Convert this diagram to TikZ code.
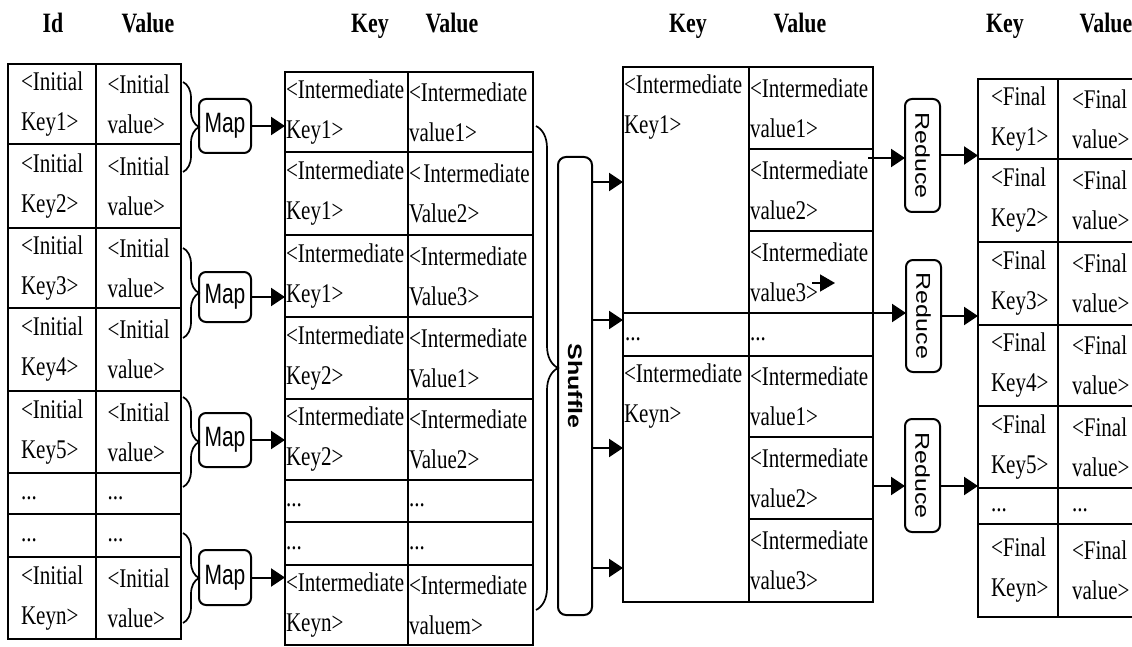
\documentclass[tikz,border=0pt]{standalone}
\usepackage{fontspec}
\usetikzlibrary{arrows.meta,decorations.pathreplacing,calc}
\newfontfamily\serifc[FakeStretch=0.78]{Liberation Serif}
\newfontfamily\sansc[FakeStretch=0.75]{Liberation Sans}
\newfontfamily\sansn{Liberation Sans}
\newcommand\mkcell[7]{\node[cellbox, text width=#5pt, minimum width=#4pt, minimum height=#6pt] (#1) at (#2,#3) {#7};}
\newcommand\dd{\rule{0pt}{12pt}...}
\hyphenpenalty=10000
\exhyphenpenalty=10000
\begin{document}
\begin{tikzpicture}[x=1pt,y=-1pt,
  cellbox/.style={draw, line width=1.2pt, anchor=north west, inner sep=0pt, outer sep=0pt, align=left,
     font=\serifc\fontsize{27}{40}\selectfont},
  txt/.style={inner sep=0pt, outer sep=0pt, align=left, anchor=north west,
     font=\serifc\fontsize{27}{40}\selectfont},
  hdr/.style={inner sep=0pt, anchor=base, font=\serifc\bfseries\fontsize{28}{32}\selectfont},
  procbox/.style={draw, line width=2pt, rounded corners=7pt, inner sep=0pt, outer sep=0pt},
  arr/.style={line width=2pt, -{Triangle[length=14pt,width=18pt]}},
  br/.style={decorate, decoration={brace, amplitude=#1}, line width=1.7pt},
]
\useasboundingbox (0,0) rectangle (1132,647);
\fill[white] (0,0) rectangle (1132,647);

% headers
\node[hdr] (h1a) at (53,33) {Id};
\node[hdr] (h1b) at (148,33) {Value};
\node[hdr] (h2a) at (370,33) {Key};
\node[hdr] (h2b) at (452,33) {Value};
\node[hdr] (h3a) at (688,33) {Key};
\node[hdr] (h3b) at (800,33) {Value};
\node[hdr] (h4a) at (1005,33) {Key};
\node[hdr] (h4b) at (1106,33) {Value};

% table 1
\mkcell{a1k}{8}{64}{88}{62}{80}{<Initial\\Key1>}
\mkcell{a1v}{96}{64}{85}{62}{80}{<Initial\\value>}
\mkcell{a2k}{8}{144}{88}{62}{84}{<Initial\\Key2>}
\mkcell{a2v}{96}{144}{85}{62}{84}{<Initial\\value>}
\mkcell{a3k}{8}{228}{88}{62}{80}{<Initial\\Key3>}
\mkcell{a3v}{96}{228}{85}{62}{80}{<Initial\\value>}
\mkcell{a4k}{8}{308}{88}{62}{83}{<Initial\\Key4>}
\mkcell{a4v}{96}{308}{85}{62}{83}{<Initial\\value>}
\mkcell{a5k}{8}{391}{88}{62}{82}{<Initial\\Key5>}
\mkcell{a5v}{96}{391}{85}{62}{82}{<Initial\\value>}
\mkcell{a6k}{8}{473}{88}{62}{41}{\dd}
\mkcell{a6v}{96}{473}{85}{62}{41}{\dd}
\mkcell{a7k}{8}{514}{88}{62}{43}{\dd}
\mkcell{a7v}{96}{514}{85}{62}{43}{\dd}
\mkcell{a8k}{8}{557}{88}{62}{82}{<Initial\\Keyn>}
\mkcell{a8v}{96}{557}{85}{62}{82}{<Initial\\value>}

% braces and map boxes
\draw[br=16pt] (183,82) -- (183,172);
\draw[br=16pt] (183,248) -- (183,338);
\draw[br=16pt] (183,397) -- (183,487);
\draw[br=16pt] (183,533) -- (183,623);
\node[procbox, minimum width=52pt, minimum height=54pt, font=\sansc\fontsize{28}{30}\selectfont] (m1) at (225,126) {Map};
\node[procbox, minimum width=52pt, minimum height=50pt, font=\sansc\fontsize{28}{30}\selectfont] (m2) at (225,297) {Map};
\node[procbox, minimum width=52pt, minimum height=54pt, font=\sansc\fontsize{28}{30}\selectfont] (m3) at (225,440) {Map};
\node[procbox, minimum width=52pt, minimum height=55pt, font=\sansc\fontsize{28}{30}\selectfont] (m4) at (225,577.5) {Map};

% table 2
\mkcell{b1k}{285}{72}{123}{121}{80}{<Intermediate\\Key1>}
\mkcell{b1v}{408}{72}{125}{123}{80}{<Intermediate\\value1>}
\mkcell{b2k}{285}{152}{123}{121}{83}{<Intermediate\\Key1>}
\mkcell{b2v}{408}{152}{125}{123}{83}{\mbox{<\hspace{2.5pt}Intermediate}\\Value2>}
\mkcell{b3k}{285}{235}{123}{121}{82}{<Intermediate\\Key1>}
\mkcell{b3v}{408}{235}{125}{123}{82}{<Intermediate\\Value3>}
\mkcell{b4k}{285}{317}{123}{121}{82}{<Intermediate\\Key2>}
\mkcell{b4v}{408}{317}{125}{123}{82}{<Intermediate\\Value1>}
\mkcell{b5k}{285}{399}{123}{121}{81}{<Intermediate\\Key2>}
\mkcell{b5v}{408}{399}{125}{123}{81}{<Intermediate\\Value2>}
\mkcell{b6k}{285}{480}{123}{121}{42}{\dd}
\mkcell{b6v}{408}{480}{125}{123}{42}{\dd}
\mkcell{b7k}{285}{522}{123}{121}{43}{\dd}
\mkcell{b7v}{408}{522}{125}{123}{43}{\dd}
\mkcell{b8k}{285}{565}{123}{121}{80}{<Intermediate\\Keyn>}
\mkcell{b8v}{408}{565}{125}{123}{80}{<Intermediate\\valuem>}

\draw[arr] (m1.east) -- (m1.east -| b1k.west);
\draw[arr] (m2.east) -- (m2.east -| b3k.west);
\draw[arr] (m3.east) -- (m3.east -| b5k.west);
\draw[arr] (m4.east) -- (m4.east -| b8k.west);

% shuffle
\draw[br=22pt] (536,126) -- (536,610);
\node[procbox, rounded corners=8pt, minimum width=34pt, minimum height=458pt] (sh) at (575,386)
  {\rotatebox{-90}{\scalebox{1}[0.78]{\sansn\bfseries\fontsize{25}{30}\selectfont Shuffle}}};

% table 3
\mkcell{c1k}{623}{67}{126}{122}{246}{}
\mkcell{c2k}{623}{313}{126}{122}{43}{\dd}
\mkcell{c3k}{623}{356}{126}{122}{246}{}
\node[txt, text width=122pt] (c1t) at ($(c1k.north west)+(1,8)$) {<Intermediate\\Key1>};
\node[txt, text width=122pt] (c3t) at ($(c3k.north west)+(1,8)$) {<Intermediate\\Keyn>};
\mkcell{c1v}{749}{67}{124}{122}{82}{<Intermediate\\value1>}
\mkcell{c2v}{749}{149}{124}{122}{82}{<Intermediate\\value2>}
\mkcell{c3v}{749}{231}{124}{122}{82}{<Intermediate\\value3>}
\mkcell{c4v}{749}{313}{124}{122}{43}{\dd}
\mkcell{c5v}{749}{356}{124}{122}{81}{<Intermediate\\value1>}
\mkcell{c6v}{749}{437}{124}{122}{82}{<Intermediate\\value2>}
\mkcell{c7v}{749}{519}{124}{122}{83}{<Intermediate\\value3>}

\coordinate (sa1) at (sh.east |- 0,182);
\coordinate (sa2) at (sh.east |- 0,320);
\coordinate (sa3) at (sh.east |- 0,448);
\coordinate (sa4) at (sh.east |- 0,568);
\draw[arr] (sa1) -- (sa1 -| c1k.west);
\draw[arr] (sa2) -- (sa2 -| c1k.west);
\draw[arr] (sa3) -- (sa3 -| c3k.west);
\draw[arr] (sa4) -- (sa4 -| c3k.west);

% stray small arrow
\coordinate (sm1) at (812,283);
\coordinate (sm2) at (835,283);
\draw[line width=1.5pt, -{Triangle[length=15pt,width=17pt]}] (sm1) -- (sm2);

% reduce
\node[procbox, minimum width=35pt, minimum height=113pt] (r1) at (922.5,155.5)
  {\rotatebox{-90}{\scalebox{1}[0.8]{\sansn\fontsize{25}{30}\selectfont Reduce}}};
\node[procbox, minimum width=35pt, minimum height=112pt] (r2) at (923.5,316)
  {\rotatebox{-90}{\scalebox{1}[0.8]{\sansn\fontsize{25}{30}\selectfont Reduce}}};
\node[procbox, minimum width=35pt, minimum height=113pt] (r3) at (922.5,475.5)
  {\rotatebox{-90}{\scalebox{1}[0.8]{\sansn\fontsize{25}{30}\selectfont Reduce}}};

\coordinate (ra1) at (868,158);
\coordinate (ra2) at (868,313);
\coordinate (ra3) at (873,486);
\draw[arr] (ra1) -- (ra1 -| r1.west);
\draw[arr] (ra2) -- (ra2 -| r2.west);
\draw[arr] (ra3) -- (ra3 -| r3.west);

% table 4
\mkcell{d1k}{978}{79}{80}{54}{80}{<Final\\Key1>}
\mkcell{d1v}{1058}{79}{82}{54}{80}{<Final\\value>}
\mkcell{d2k}{978}{159}{80}{54}{83}{<Final\\Key2>}
\mkcell{d2v}{1058}{159}{82}{54}{83}{<Final\\value>}
\mkcell{d3k}{978}{242}{80}{54}{83}{<Final\\Key3>}
\mkcell{d3v}{1058}{242}{82}{54}{83}{<Final\\value>}
\mkcell{d4k}{978}{325}{80}{54}{81}{<Final\\Key4>}
\mkcell{d4v}{1058}{325}{82}{54}{81}{<Final\\value>}
\mkcell{d5k}{978}{406}{80}{54}{82}{<Final\\Key5>}
\mkcell{d5v}{1058}{406}{82}{54}{82}{<Final\\value>}
\mkcell{d6k}{978}{488}{80}{54}{36}{\dd}
\mkcell{d6v}{1058}{488}{82}{54}{36}{\dd}
\mkcell{d7k}{978}{524}{80}{54}{93}{<Final\\Keyn>\\[10pt]}
\mkcell{d7v}{1058}{524}{82}{54}{93}{<Final\\value>\\[10pt]}

\draw[arr] (r1.east) -- (r1.east -| d1k.west);
\draw[arr] (r2.east) -- (r2.east -| d3k.west);
\draw[arr] (ra3 -| r3.east) -- (ra3 -| d5k.west);
\end{tikzpicture}
\end{document}
